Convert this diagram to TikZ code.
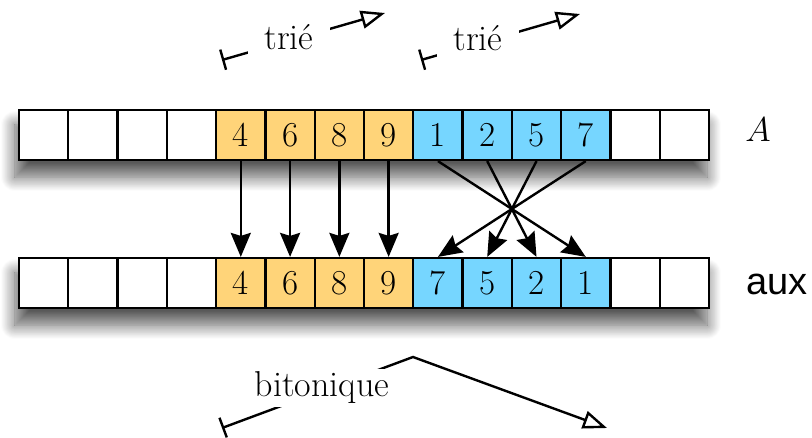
\documentclass[tikz,border=0pt]{standalone}
\usepackage{fontspec}
\newfontfamily\auxfont{Liberation Sans}
\usetikzlibrary{arrows.meta,shadows.blur,backgrounds,fit}
\definecolor{cantaloupe}{HTML}{FFD479}
\definecolor{sky}{HTML}{76D6FF}
\tikzset{
  cell/.style={draw=black, line width=1.1pt, minimum width=24.64pt,
    minimum height=25pt, inner sep=0pt, font=\fontsize{17.5}{20}\selectfont},
  sortedcell/.style={cell, fill=cantaloupe},
  bluecell/.style={cell, fill=sky},
  emptycell/.style={cell, fill=white},
  arrshadow/.style={inner sep=0pt, fill=white,
    blur shadow={shadow xshift=-1.5pt, shadow yshift=-8pt, shadow blur radius=7pt,
      shadow blur steps=16, shadow opacity=65}},
  copyarrow/.style={line width=1.2pt, -{Stealth[length=12pt,width=10pt,inset=1.5pt]}},
  rangearrow/.style={line width=1.2pt, {Bar[width=10.5pt]}-{Triangle[open,length=12pt,width=9pt]}},
  tag/.style={fill=white, inner xsep=8pt, inner ysep=3.5pt, font=\fontsize{18}{20}\selectfont},
}
\begin{document}
\begin{tikzpicture}[x=0.5pt,y=-0.5pt]
\useasboundingbox (0,0) rectangle (812,438);

% array A (top) and array aux (bottom)
\foreach \i/\s/\v in {0/emptycell/{},1/emptycell/{},2/emptycell/{},3/emptycell/{},
    4/sortedcell/4,5/sortedcell/6,6/sortedcell/8,7/sortedcell/9,
    8/bluecell/1,9/bluecell/2,10/bluecell/5,11/bluecell/7,
    12/emptycell/{},13/emptycell/{}}{
  \pgfmathsetmacro{\cx}{19+49.2857*(\i+0.5)}
  \node[\s] (a\i) at (\cx,135) {\v};
}
\foreach \i/\s/\v in {0/emptycell/{},1/emptycell/{},2/emptycell/{},3/emptycell/{},
    4/sortedcell/4,5/sortedcell/6,6/sortedcell/8,7/sortedcell/9,
    8/bluecell/7,9/bluecell/5,10/bluecell/2,11/bluecell/1,
    12/emptycell/{},13/emptycell/{}}{
  \pgfmathsetmacro{\cx}{19+49.2857*(\i+0.5)}
  \node[\s] (b\i) at (\cx,283) {\v};
}

% soft shadows under both arrays
\begin{scope}[on background layer]
  \node[arrshadow, fit=(a0)(a13)] (shadowA) {};
  \node[arrshadow, fit=(b0)(b13)] (shadowB) {};
\end{scope}

% array names
\node[font=\fontsize{18.5}{20}\selectfont] (nameA) at (758,130) {$A$};
\node[font=\auxfont\fontsize{19}{22}\selectfont] (nameaux) at (777,284) {aux};

% copy of the first sorted run
\foreach \i in {4,...,7}
  \draw[copyarrow] (a\i.south) -- (b\i.north);
% reversed copy of the second sorted run
\foreach \i/\j in {8/11,9/10,10/9,11/8}
  \draw[copyarrow] (a\i.south) -- (b\j.north);

% range markers
\coordinate (r1s) at (222,60);
\coordinate (r1e) at (385,13);
\draw[rangearrow] (r1s) -- (r1e);
\node[tag] (t1) at (289,37) {trié};

\coordinate (r2s) at (421,60);
\coordinate (r2e) at (580,14);
\draw[rangearrow] (r2s) -- (r2e);
\node[tag] (t2) at (478,38) {trié};

\coordinate (bs) at (222,428);
\coordinate (bp) at (413,357);
\coordinate (be) at (607,428);
\draw[rangearrow] (bs) -- (bp) -- (be);
\node[tag, inner ysep=1.5pt] (bt) at (322,388) {bitonique};
\end{tikzpicture}
\end{document}
